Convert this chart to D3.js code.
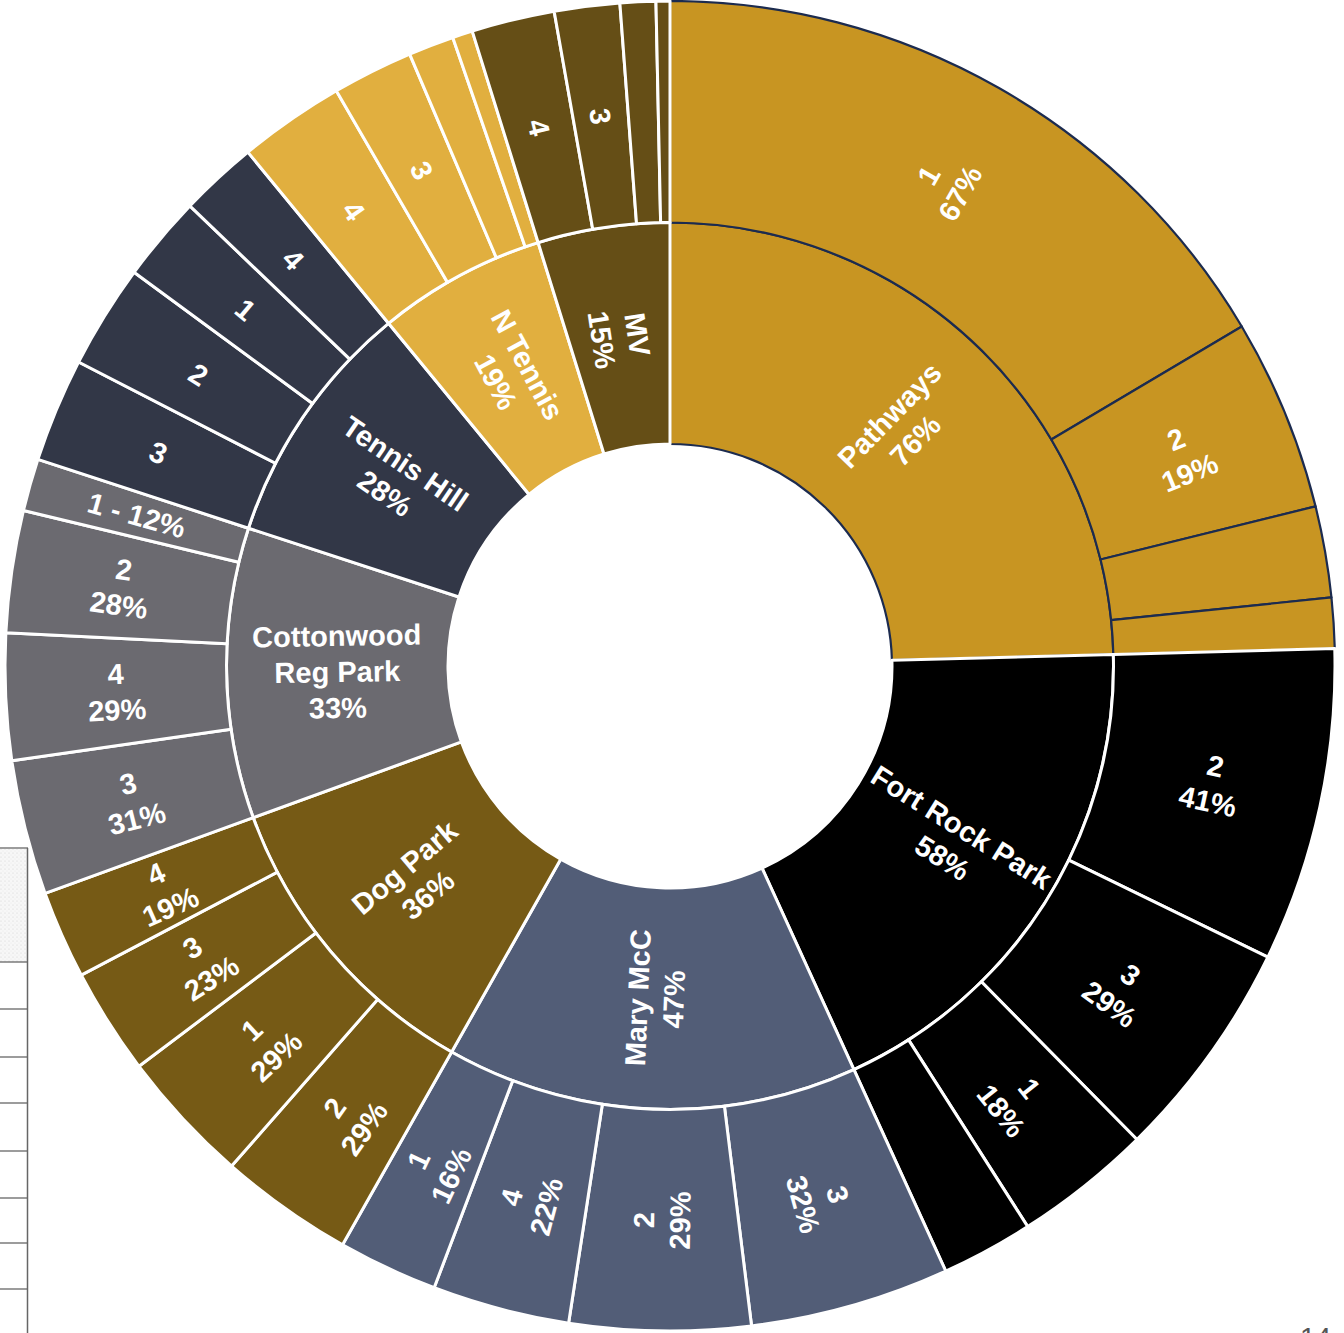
<!DOCTYPE html>
<html><head><meta charset="utf-8">
<script src="https://cdn.jsdelivr.net/npm/d3@7"></script>
<style>html,body{margin:0;padding:0;background:#fff;} svg{display:block}</style>
</head><body>
<svg id="chart" width="1344" height="1333"></svg>
<script>
// ---- data ----
const categories = ["Pathways","Fort Rock Park","Mary McC","Dog Park","Cottonwood Reg Park","Tennis Hill","N Tennis","MV"];
// arc sizes (degrees of the full circle)
const categoryArcs = [88.5,67,54,40.5,38.1,32.5,22.1,17.3];
const categoryLabels = [["Pathways","76%"],["Fort Rock Park","58%"],["Mary McC","47%"],["Dog Park","36%"],["Cottonwood","Reg Park","33%"],["Tennis Hill","28%"],["N Tennis","19%"],["MV","15%"]];
const subNames = [["1","2","3","4"],["2","3","1","4"],["3","2","4","1"],["2","1","3","4"],["3","4","2","1"],["3","2","1","4"],["4","3","2","1"],["4","3","2","1"]];
const subShares = [[67,19,9,5],[41,29,18,12],[32,29,22,16],[29,29,23,19],[31,29,28,12],[28,28,23,21],[42,32,18,8],[42,33,18,7]];
const subLabels = [
  [["1","67%"],["2","19%"],[],[]],
  [["2","41%"],["3","29%"],["1","18%"],[]],
  [["3","32%"],["2","29%"],["4","22%"],["1","16%"]],
  [["2","29%"],["1","29%"],["3","23%"],["4","19%"]],
  [["3","31%"],["4","29%"],["2","28%"],["1 - 12%"]],
  [["3"],["2"],["1"],["4"]],
  [["4"],["3"],[],[]],
  [["4"],["3"],[],[]]
];
const categoryColors = ["#C89522","#000000","#525D77","#765A15","#6B6A70","#323747","#E1AF3F","#654E16"];
const pageNumber = "14";

// ---- build hierarchy ----
const rootData = {name:"root", children: categories.map((c,i)=>{
  const tot = d3.sum(subShares[i]);
  return {name:c, idx:i, label:categoryLabels[i], children: subNames[i].map((s,j)=>({
    name:s, idx:i, label:subLabels[i][j], value: categoryArcs[i]*subShares[i][j]/tot
  }))};
})};

const root = d3.hierarchy(rootData).sum(d=>d.children?0:d.value);
d3.partition().size([2*Math.PI, 3])(root);

const cx = 670, cy = 666;
const r = d3.scaleLinear().domain([1,3]).range([222,665]);
const arc = d3.arc()
  .startAngle(d=>d.x0).endAngle(d=>d.x1)
  .innerRadius(d=>r(d.y0)).outerRadius(d=>r(d.y1));

const svg = d3.select("#chart");

// page decoration (cropped table at left, page number)
const defs = svg.append("defs");
const pat = defs.append("pattern").attr("id","dots").attr("width",4).attr("height",4).attr("patternUnits","userSpaceOnUse");
pat.append("rect").attr("width",4).attr("height",4).attr("fill","#f7f7f7");
pat.append("circle").attr("cx",1).attr("cy",1).attr("r",0.6).attr("fill","#d4d4d4");
pat.append("circle").attr("cx",3).attr("cy",3).attr("r",0.45).attr("fill","#e0e0e0");
const deco = svg.append("g").attr("class","page-decor");
deco.append("rect").attr("x",0).attr("y",849).attr("width",27).attr("height",113).attr("fill","url(#dots)");
deco.append("line").attr("x1",27.5).attr("x2",27.5).attr("y1",848).attr("y2",1333).attr("stroke","#666").attr("stroke-width",1.5);
[848,962,1009,1057,1103,1151,1198,1243,1289].forEach(y=>{
  deco.append("line").attr("x1",0).attr("x2",28).attr("y1",y).attr("y2",y).attr("stroke","#666").attr("stroke-width",1.3);
});
deco.append("text").attr("x",1300).attr("y",1347).attr("font-family","Liberation Sans, Arial, sans-serif")
  .attr("font-size",28).attr("fill","#555").text(pageNumber);

const g = svg.append("g").attr("transform",`translate(${cx},${cy})`);

const nodes = root.descendants().filter(d=>d.depth>0);
// draw Pathways (index 0) first with navy borders, then others with white borders on top
const ordered = nodes.slice().sort((a,b)=>(a.data.idx===0?0:1)-(b.data.idx===0?0:1));
g.selectAll("path.seg").data(ordered).join("path")
  .attr("class","seg")
  .attr("d",arc)
  .attr("fill",d=>categoryColors[d.data.idx])
  .attr("stroke",d=>d.data.idx===0?"#1C2B4F":"#ffffff")
  .attr("stroke-width",d=>d.data.idx===0?2.2:3)
  .attr("stroke-linejoin","round");

// labels
const lineH = 36;
const lab = g.selectAll("text.lbl").data(nodes.filter(d=>d.data.label && d.data.label.length)).join("text")
  .attr("class","lbl")
  .attr("transform",d=>{
    const a = (d.x0+d.x1)/2*180/Math.PI;
    const rr = (r(d.y0)+r(d.y1))/2;
    return `rotate(${a-90}) translate(${rr},0) rotate(${a<180?0:180})`;
  })
  .attr("text-anchor","middle")
  .attr("fill","#fff")
  .attr("font-family","Liberation Sans, Arial, sans-serif")
  .attr("font-weight","bold")
  .attr("font-size",29);
lab.each(function(d){
  const lines = d.data.label;
  const t = d3.select(this);
  lines.forEach((s,i)=>{
    t.append("tspan").attr("x",0)
      .attr("y", (i-(lines.length-1)/2)*lineH)
      .attr("dy","0.36em").text(s);
  });
});
</script>
</body></html>
